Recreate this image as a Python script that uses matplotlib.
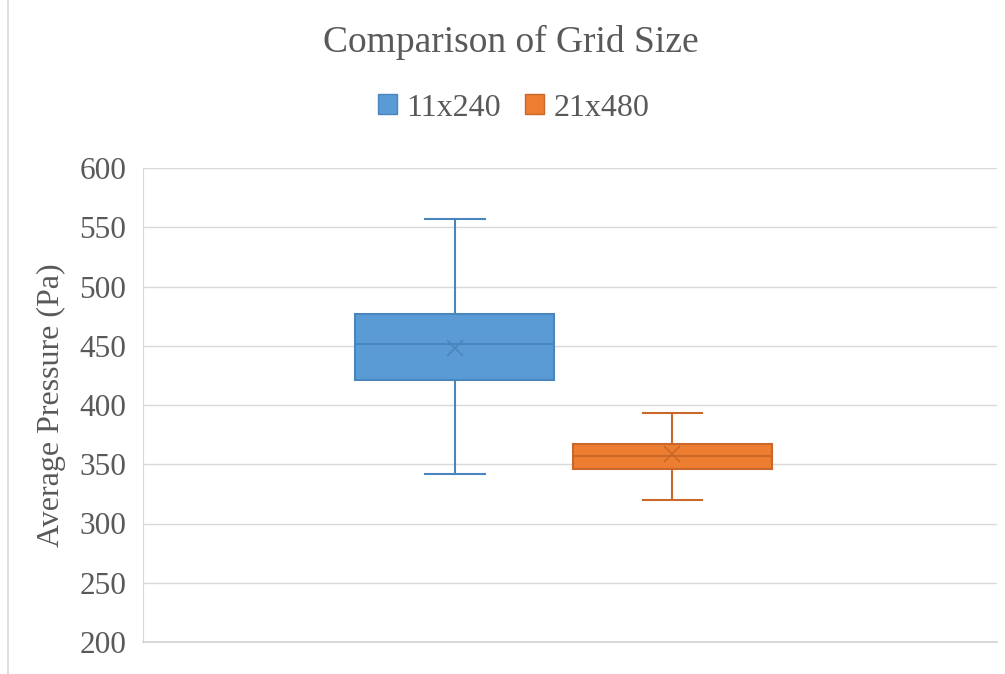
import matplotlib
matplotlib.use("Agg")
import matplotlib.pyplot as plt
from matplotlib.lines import Line2D
from matplotlib.patches import Patch

# -----------------------
# Data
# -----------------------
series = ["11x240", "21x480"]
whisker_low = [341.8, 319.6]
q1 = [420.8, 346.4]
median = [451.4, 356.7]
q3 = [477.0, 366.9]
whisker_high = [556.6, 393.6]
means = [447.8, 359.0]

fill_colors = ["#5B9BD5", "#ED7D31"]
edge_colors = ["#4A86BE", "#C9682A"]
text_color = "#595959"

plt.rcParams["font.family"] = ["Liberation Serif", "DejaVu Serif"]

fig = plt.figure(figsize=(10.05, 6.74), dpi=100)
ax = fig.add_axes([143 / 1005, 1 - 642 / 674, (997 - 143) / 1005, (642 - 168) / 674])

positions = [0.365, 0.62]
for i in range(len(series)):
    stats = [{
        "med": median[i], "q1": q1[i], "q3": q3[i],
        "whislo": whisker_low[i], "whishi": whisker_high[i],
        "mean": means[i], "label": series[i],
    }]
    ec = edge_colors[i]
    ax.bxp(stats, positions=[positions[i]], widths=0.233, patch_artist=True,
           showmeans=True, showfliers=False, manage_ticks=False,
           boxprops=dict(facecolor=fill_colors[i], edgecolor=ec, linewidth=1.5),
           medianprops=dict(color=ec, linewidth=1.5),
           whiskerprops=dict(color=ec, linewidth=1.5),
           capprops=dict(color=ec, linewidth=1.5),
           capwidths=0.07,
           meanprops=dict(marker="x", markeredgecolor=ec, markersize=11,
                          markeredgewidth=1.2))

ax.set_xlim(0, 1)
ax.set_ylim(200, 600)
ax.set_yticks(range(200, 601, 50))
ax.set_xticks([])
ax.grid(axis="y", color="#D9D9D9", linewidth=1)
ax.set_axisbelow(True)
for side in ["top", "right"]:
    ax.spines[side].set_visible(False)
ax.spines["left"].set_color("#D9D9D9")
ax.spines["bottom"].set_color("#D0D0D0")
ax.spines["bottom"].set_linewidth(1.2)
ax.tick_params(axis="y", length=0, pad=12, labelsize=22.5, labelcolor=text_color)

ax.set_ylabel("Average Pressure (Pa)", fontsize=23, color=text_color, labelpad=10)

fig.text(0.508, 1 - 42 / 674, "Comparison of Grid Size", ha="center", va="center",
         fontsize=27, color=text_color)

handles = [Patch(facecolor=fill_colors[i], edgecolor=edge_colors[i], label=series[i])
           for i in range(len(series))]
fig.legend(handles=handles, loc="center", bbox_to_anchor=(0.511, 1 - 108 / 674),
           ncol=2, frameon=False, fontsize=23, handlelength=0.6, handleheight=0.6,
           handletextpad=0.3, columnspacing=0.75, labelcolor=text_color)

# chart area border on the left
fig.add_artist(Line2D([8 / 1005, 8 / 1005], [0, 1], color="#D9D9D9", linewidth=1.2))

fig.savefig("out.png", dpi=100)
